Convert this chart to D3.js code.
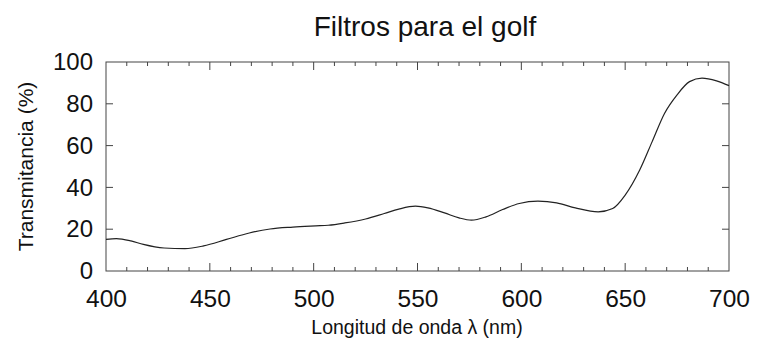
<!DOCTYPE html>
<html>
<head>
<meta charset="utf-8">
<script src="https://cdn.jsdelivr.net/npm/d3@7"></script>
<style>
  html, body { margin: 0; padding: 0; background: #fff; }
  svg { display: block; font-family: "Liberation Sans", Arial, sans-serif; }
</style>
</head>
<body>
<svg id="chart" width="762" height="355"></svg>
<script>
// Transmittance spectrum of a golf filter
const wavelengths = [400,405,412,418,428,438,447,458,469,479,490,501,507,515,525,534,541,549,555,563,570,576,583,591,599,608,617,626,637,644,650,657,663,669,675,681,687,694,700];
const transmittance = [15.1,15.5,14.4,12.7,11.0,10.7,12.0,15.1,18.2,20.1,21.0,21.6,21.9,23.0,24.9,27.5,29.6,31.0,30.2,27.8,25.4,24.3,25.9,29.4,32.3,33.4,32.6,30.2,28.3,29.9,36.3,48.3,61.9,75.5,84.3,90.6,92.3,91.0,88.7];
const xTickValues = [400,450,500,550,600,650,700];
const yTickValues = [0,20,40,60,80,100];

const title = "Filtros para el golf";
const xLabel = "Longitud de onda \u03bb (nm)";
const yLabel = "Transmitancia (%)";

const svg = d3.select("#chart");
const plotLeft = 106, plotRight = 729, plotTop = 62, plotBottom = 271;

const x = d3.scaleLinear().domain([400, 700]).range([plotLeft, plotRight]);
const y = d3.scaleLinear().domain([0, 100]).range([plotBottom, plotTop]);

const ink = "#222";
const font = "Liberation Sans, Arial, sans-serif";

// Frame
svg.append("rect")
  .attr("x", plotLeft).attr("y", plotTop)
  .attr("width", plotRight - plotLeft).attr("height", plotBottom - plotTop)
  .attr("fill", "none").attr("stroke", "#444").attr("stroke-width", 1);

// Inward ticks on all four sides
const minorX = d3.range(410, 700, 10).filter(v => v % 50 !== 0);
const tickG = svg.append("g").attr("stroke", "#444").attr("stroke-width", 1);
minorX.forEach(v => {
  tickG.append("line").attr("x1", x(v)).attr("x2", x(v)).attr("y1", plotBottom).attr("y2", plotBottom - 4);
  tickG.append("line").attr("x1", x(v)).attr("x2", x(v)).attr("y1", plotTop).attr("y2", plotTop + 4);
});
xTickValues.slice(1, -1).forEach(v => {
  tickG.append("line").attr("x1", x(v)).attr("x2", x(v)).attr("y1", plotBottom).attr("y2", plotBottom - 8);
  tickG.append("line").attr("x1", x(v)).attr("x2", x(v)).attr("y1", plotTop).attr("y2", plotTop + 8);
});
yTickValues.slice(1, -1).forEach(v => {
  tickG.append("line").attr("x1", plotLeft).attr("x2", plotLeft + 7).attr("y1", y(v)).attr("y2", y(v));
  tickG.append("line").attr("x1", plotRight).attr("x2", plotRight - 7).attr("y1", y(v)).attr("y2", y(v));
});

// Bottom axis labels
const xAxis = d3.axisBottom(x).tickValues(xTickValues).tickSize(0).tickPadding(19).tickFormat(d3.format("d"));
const gx = svg.append("g").attr("transform", `translate(0,${plotBottom})`).call(xAxis);
gx.select(".domain").remove();
gx.selectAll("text").attr("font-size", 24.5).attr("fill", "#111").attr("font-family", font);

// Left axis labels
const yAxis = d3.axisLeft(y).tickValues(yTickValues).tickSize(0).tickPadding(13).tickFormat(d3.format("d"));
const gy = svg.append("g").attr("transform", `translate(${plotLeft},0)`).call(yAxis);
gy.select(".domain").remove();
gy.selectAll("text").attr("font-size", 24).attr("fill", "#111").attr("font-family", font);

// Spectrum curve
const line = d3.line()
  .x((d, i) => x(wavelengths[i]))
  .y(d => y(d))
  .curve(d3.curveMonotoneX);

svg.append("path")
  .datum(transmittance)
  .attr("d", line)
  .attr("fill", "none")
  .attr("stroke", ink)
  .attr("stroke-width", 1.2);

// Title and axis titles
svg.append("text")
  .attr("x", 425).attr("y", 36)
  .attr("text-anchor", "middle")
  .attr("font-size", 28).attr("fill", "#111")
  .text(title);

svg.append("text")
  .attr("x", 417).attr("y", 334)
  .attr("text-anchor", "middle")
  .attr("font-size", 19.5).attr("fill", "#111")
  .text(xLabel);

svg.append("text")
  .attr("transform", `translate(33,${(plotTop + plotBottom) / 2}) rotate(-90)`)
  .attr("text-anchor", "middle")
  .attr("font-size", 21).attr("fill", "#111")
  .text(yLabel);
</script>
</body>
</html>
